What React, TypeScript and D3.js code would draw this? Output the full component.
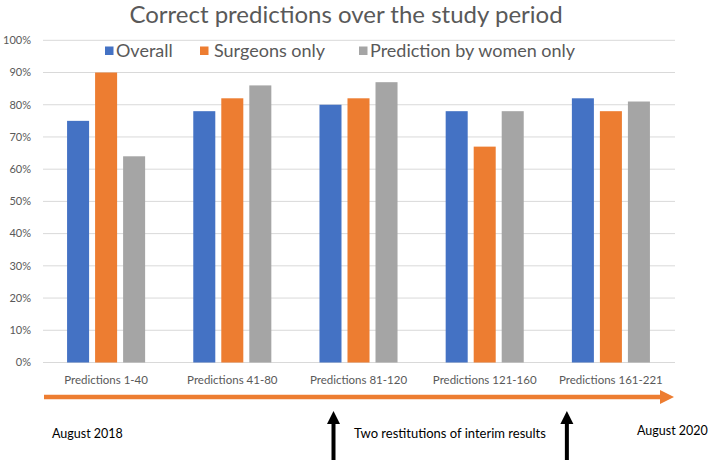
import React from "react";
import * as d3 from "d3";

const categories = [
  "Predictions 1-40",
  "Predictions 41-80",
  "Predictions 81-120",
  "Predictions 121-160",
  "Predictions 161-221",
];
const seriesNames = ["Overall", "Surgeons only", "Prediction by women only"];
const overall = [75, 78, 80, 78, 82];
const surgeonsOnly = [90, 82, 82, 67, 78];
const womenOnly = [64, 86, 87, 78, 81];
const yTicks = [0, 10, 20, 30, 40, 50, 60, 70, 80, 90, 100];
const colors = ["#4472c4", "#ed7d31", "#a5a5a5"];
const timelineStart = "August 2018";
const timelineEnd = "August 2020";
const interimLabel = "Two restitutions of interim results";

const W = 709;
const H = 460;
const FONT = "Lato, 'Open Sans', sans-serif";
const TEXT = "#595959";

export default function App() {
  const values = [overall, surgeonsOnly, womenOnly];
  const x0 = d3
    .scaleBand<string>()
    .domain(categories)
    .range([43, 674])
    .paddingInner(0.334)
    .paddingOuter(0.167);
  const x1 = d3
    .scaleBand<string>()
    .domain(seriesNames)
    .range([0, x0.bandwidth()])
    .paddingInner(0.214)
    .paddingOuter(0.107);
  const y = d3.scaleLinear().domain([0, 100]).range([362.5, 40.3]);

  const legendSq = [105, 200, 359];
  const legendTx = [116, 214, 370];
  const arrowY = 397;
  const arrowX0 = 44;
  const arrowX1 = 674;
  const blackArrowX = [
    (x0(categories[2]) as number) + x0.bandwidth() / 2 - 25,
    (x0(categories[4]) as number) - 2,
  ];

  return (
    <svg
      width={W}
      height={H}
      style={{ position: "absolute", left: 0, top: 0, background: "#fff" }}
      fontFamily={FONT}
    >
      <rect x={0} y={0} width={W} height={H} fill="#fff" />
      <text x={346} y={23} textAnchor="middle" fontSize={24} fill={TEXT}>
        Correct predictions over the study period
      </text>

      {yTicks.map((t) => (
        <g key={t}>
          <line
            x1={43}
            x2={675}
            y1={y(t)}
            y2={y(t)}
            stroke="#d9d9d9"
            strokeWidth={1}
          />
          <text
            x={31}
            y={y(t)}
            dy="0.35em"
            textAnchor="end"
            fontSize={11}
            fill={TEXT}
          >
            {t}%
          </text>
        </g>
      ))}

      {categories.map((c, i) => (
        <g key={c} transform={`translate(${x0(c)},0)`}>
          {seriesNames.map((s, j) => (
            <rect
              key={s}
              x={x1(s)}
              width={x1.bandwidth()}
              y={y(values[j][i])}
              height={y(0) - y(values[j][i])}
              fill={colors[j]}
            />
          ))}
          <text
            x={x0.bandwidth() / 2}
            y={384}
            textAnchor="middle"
            fontSize={11.5}
            fill={TEXT}
          >
            {c}
          </text>
        </g>
      ))}

      {seriesNames.map((s, j) => (
        <g key={s}>
          <rect x={legendSq[j]} y={46.5} width={8.5} height={8.5} fill={colors[j]} />
          <text x={legendTx[j]} y={57} fontSize={18} fill={TEXT}>
            {s}
          </text>
        </g>
      ))}

      <line
        x1={arrowX0}
        x2={arrowX1 - 13}
        y1={arrowY}
        y2={arrowY}
        stroke="#ed7d31"
        strokeWidth={4.5}
      />
      <path
        d={`M${arrowX1 - 14},${arrowY - 7} L${arrowX1},${arrowY} L${arrowX1 - 14},${arrowY + 7} Z`}
        fill="#ed7d31"
      />

      {blackArrowX.map((ax, k) => (
        <g key={k}>
          <line x1={ax} x2={ax} y1={422} y2={462} stroke="#000" strokeWidth={4} />
          <path
            d={`M${ax - 6.5},${424} L${ax},${411} L${ax + 6.5},${424} Z`}
            fill="#000"
          />
        </g>
      ))}

      <text x={52} y={438} fontSize={12.5} fill="#000">
        {timelineStart}
      </text>
      <text x={354} y={438} fontSize={13} fill="#000">
        {interimLabel}
      </text>
      <text x={637} y={435} fontSize={12.5} fill="#000">
        {timelineEnd}
      </text>
    </svg>
  );
}
